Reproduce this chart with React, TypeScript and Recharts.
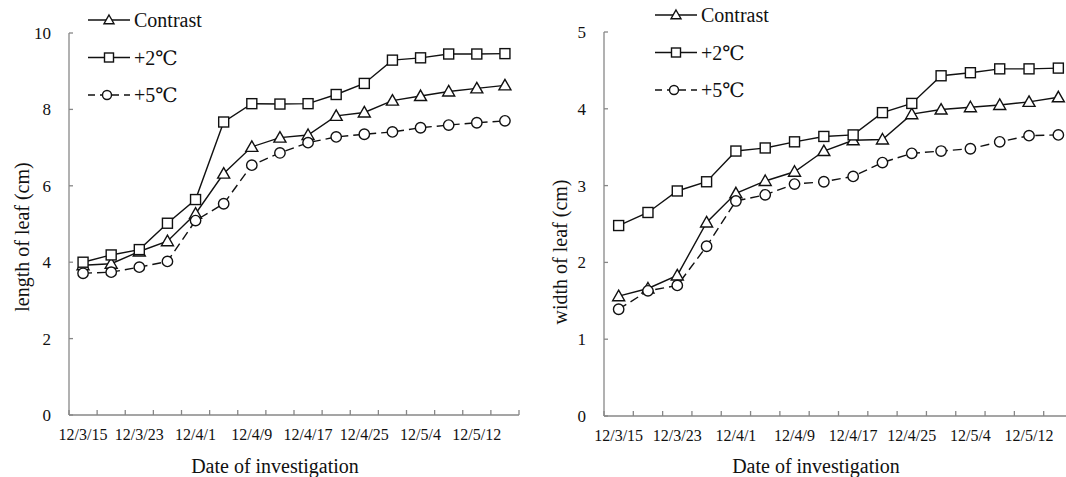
import { LineChart, Line, XAxis, YAxis } from 'recharts'

const dates = ['12/3/15', '12/3/19', '12/3/23', '12/3/27', '12/4/1', '12/4/5', '12/4/9', '12/4/13',
  '12/4/17', '12/4/21', '12/4/25', '12/4/29', '12/5/4', '12/5/8', '12/5/12', '12/5/16']

// leaf length (cm)
const lengthContrast = [3.92, 3.96, 4.28, 4.55, 5.27, 6.32, 7.02, 7.26, 7.33, 7.83, 7.92, 8.23, 8.35, 8.47, 8.55, 8.63]
const lengthPlus2 = [4.0, 4.19, 4.33, 5.02, 5.64, 7.67, 8.15, 8.14, 8.15, 8.39, 8.68, 9.29, 9.35, 9.45, 9.45, 9.46]
const lengthPlus5 = [3.71, 3.74, 3.87, 4.02, 5.09, 5.53, 6.54, 6.86, 7.13, 7.28, 7.35, 7.41, 7.52, 7.59, 7.65, 7.7]

// leaf width (cm)
const widthContrast = [1.56, 1.66, 1.83, 2.52, 2.9, 3.06, 3.18, 3.45, 3.59, 3.6, 3.93, 3.99, 4.02, 4.05, 4.09, 4.15]
const widthPlus2 = [2.48, 2.65, 2.93, 3.05, 3.45, 3.49, 3.57, 3.64, 3.66, 3.95, 4.07, 4.43, 4.47, 4.52, 4.52, 4.53]
const widthPlus5 = [1.39, 1.63, 1.7, 2.21, 2.8, 2.88, 3.02, 3.05, 3.12, 3.3, 3.42, 3.45, 3.48, 3.57, 3.65, 3.66]

const lengthTicks = [0, 2, 4, 6, 8, 10]
const widthTicks = [0, 1, 2, 3, 4, 5]
const seriesNames = ['Contrast', '+2℃', '+5℃']

const FONT = '"Liberation Serif", "Times New Roman", "DejaVu Serif", serif'
const AXIS = '#878787'
const INK = '#111'
const DASH = '9 5'

// bands: one per date, tick marks sit on the band edges
const bandTicks = [...dates.map((_, i) => i), dates.length]

function buildRows(a: number[], b: number[], c: number[]) {
  return dates.map((d, i) => ({ x: i + 0.5, date: d, contrast: a[i], plus2: b[i], plus5: c[i] }))
}

function Triangle({ cx, cy, s = 6 }: any) {
  return <path d={`M${cx},${cy - s} L${cx + s},${cy + s * 0.75} L${cx - s},${cy + s * 0.75} Z`} fill="#fff" stroke={INK} strokeWidth={1.4} />
}
function Square({ cx, cy, s = 5 }: any) {
  return <rect x={cx - s} y={cy - s} width={s * 2} height={s * 2} fill="#fff" stroke={INK} strokeWidth={1.4} />
}
function Circle({ cx, cy, s = 5.2 }: any) {
  return <circle cx={cx} cy={cy} r={s} fill="#fff" stroke={INK} strokeWidth={1.4} />
}

function makeXTick(band: number) {
  return (props: any) => {
    const { x, y, payload } = props
    const i = payload.value
    const label = i < dates.length && i % 2 === 0 ? dates[i] : null
    return (
      <g>
        <line x1={x} y1={y} x2={x} y2={y - 5} stroke={AXIS} strokeWidth={1.3} />
        {label && (
          <text x={x + band / 2} y={y + 25} textAnchor="middle" fontSize={16} fontFamily={FONT} fill={INK}>
            {label}
          </text>
        )}
      </g>
    )
  }
}

function YTick(props: any) {
  const { x, y, payload } = props
  return (
    <g>
      <line x1={x} y1={y} x2={x + 4} y2={y} stroke={AXIS} strokeWidth={1.3} />
      <text x={x - 18} y={y} dy="0.35em" textAnchor="end" fontSize={17} fontFamily={FONT} fill={INK}>
        {payload.value}
      </text>
    </g>
  )
}

function Legend({ left, top }: { left: number; top: number }) {
  const rowGap = 37.5
  return (
    <svg width={160} height={120} style={{ position: 'absolute', left, top }}>
      {seriesNames.map((name, i) => {
        const y = 10 + i * rowGap
        return (
          <g key={name}>
            <line x1={0} y1={y} x2={42} y2={y} stroke={INK} strokeWidth={1.4} strokeDasharray={i === 2 ? '7 5' : undefined} />
            {i === 0 && <Triangle cx={21} cy={y} s={5} />}
            {i === 1 && <Square cx={21} cy={y} s={4.5} />}
            {i === 2 && <Circle cx={19} cy={y} s={4.5} />}
            <text x={46} y={y} dy="0.35em" fontSize={20} fontFamily={FONT} fill={INK}>
              {name}
            </text>
          </g>
        )
      })}
    </svg>
  )
}

interface PanelProps {
  rows: ReturnType<typeof buildRows>
  width: number
  margin: { top: number; right: number; bottom: number; left: number }
  yWidth: number
  yMax: number
  yTicks: number[]
  yTitle: string
  yTitlePos: [number, number]
  xTitlePos: [number, number]
}

function Panel({ rows, width, margin, yWidth, yMax, yTicks, yTitle, yTitlePos, xTitlePos }: PanelProps) {
  const band = (width - margin.left - margin.right - yWidth) / dates.length
  return (
    <LineChart width={width} height={477} data={rows} margin={margin}>
      <XAxis
        dataKey="x"
        type="number"
        domain={[0, dates.length]}
        ticks={bandTicks}
        interval={0}
        height={40}
        tickSize={0}
        tickMargin={0}
        tickLine={false}
        tick={makeXTick(band)}
        axisLine={{ stroke: AXIS, strokeWidth: 1.3 }}
        label={{
          content: () => (
            <text x={xTitlePos[0]} y={xTitlePos[1]} textAnchor="middle" fontSize={20} fontFamily={FONT} fill={INK}>
              Date of investigation
            </text>
          ),
        }}
      />
      <YAxis
        type="number"
        domain={[0, yMax]}
        ticks={yTicks}
        interval={0}
        width={yWidth}
        tickSize={0}
        tickMargin={0}
        tickLine={false}
        tick={YTick}
        axisLine={{ stroke: AXIS, strokeWidth: 1.3 }}
        label={{
          content: () => (
            <text
              x={yTitlePos[0]}
              y={yTitlePos[1]}
              dy="0.35em"
              textAnchor="middle"
              transform={`rotate(-90, ${yTitlePos[0]}, ${yTitlePos[1]})`}
              fontSize={20}
              fontFamily={FONT}
              fill={INK}
            >
              {yTitle}
            </text>
          ),
        }}
      />
      <Line
        dataKey="contrast"
        stroke={INK}
        strokeWidth={1.4}
        isAnimationActive={false}
        dot={(p: any) => <Triangle key={`t${p.index}`} cx={p.cx} cy={p.cy} />}
      />
      <Line
        dataKey="plus2"
        stroke={INK}
        strokeWidth={1.4}
        isAnimationActive={false}
        dot={(p: any) => <Square key={`s${p.index}`} cx={p.cx} cy={p.cy} />}
      />
      <Line
        dataKey="plus5"
        stroke={INK}
        strokeWidth={1.4}
        strokeDasharray={DASH}
        isAnimationActive={false}
        dot={(p: any) => <Circle key={`c${p.index}`} cx={p.cx} cy={p.cy} />}
      />
    </LineChart>
  )
}

export default function App() {
  const lengthRows = buildRows(lengthContrast, lengthPlus2, lengthPlus5)
  const widthRows = buildRows(widthContrast, widthPlus2, widthPlus5)
  return (
    <div style={{ position: 'fixed', left: 0, top: 0, width: 1066, height: 477, overflow: 'hidden', background: '#fff' }}>
      <div style={{ position: 'absolute', left: 0, top: 0 }}>
        <Panel
          rows={lengthRows}
          width={545}
          margin={{ top: 33, right: 26, bottom: 22, left: 0 }}
          yWidth={69}
          yMax={10}
          yTicks={lengthTicks}
          yTitle="length of leaf (cm)"
          yTitlePos={[22, 237]}
          xTitlePos={[275, 473]}
        />
      </div>
      <div style={{ position: 'absolute', left: 545, top: 0 }}>
        <Panel
          rows={widthRows}
          width={538}
          margin={{ top: 32, right: 10, bottom: 21, left: 0 }}
          yWidth={59}
          yMax={5}
          yTicks={widthTicks}
          yTitle="width of leaf (cm)"
          yTitlePos={[15, 252]}
          xTitlePos={[271, 473]}
        />
      </div>
      <Legend left={88} top={10} />
      <Legend left={655} top={5} />
    </div>
  )
}
